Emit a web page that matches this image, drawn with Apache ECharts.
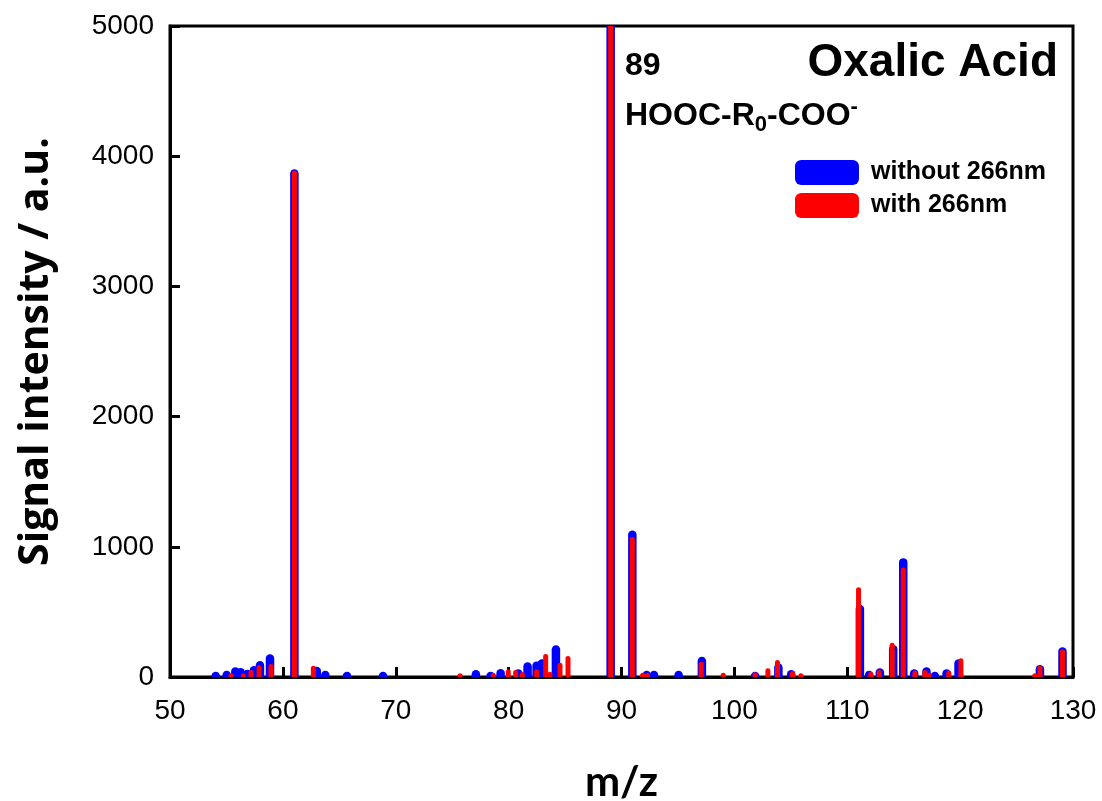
<!DOCTYPE html>
<html>
<head>
<meta charset="utf-8">
<script src="https://cdn.jsdelivr.net/npm/echarts@6/dist/echarts.min.js"></script>
<style>
    html, body { margin: 0; padding: 0; background: #fff; }
    #chart { width: 1102px; height: 801px; }
</style>
</head>
<body>
<div id="chart"></div>
<script>
// m/z positions and intensities
let blueMz = [54.05, 55.02, 55.79, 56.26, 56.85, 57.44, 57.97, 58.86, 61.02, 63.0, 63.76, 65.68, 68.87,
    77.1, 78.4, 79.29, 80.86, 81.68, 82.48, 82.95, 84.19, 89.04, 90.96, 92.23, 92.88, 95.06,
    97.12, 101.84, 103.9, 105.03, 111.12, 111.94, 112.89, 114.07, 114.96, 115.93, 117.02, 117.76,
    118.8, 119.86, 127.07, 129.07];
let blueInt = [40, 48, 74, 69, 56, 85, 123, 174, 3900, 79, 48, 41, 41,
    54, 41, 61, 59, 113, 120, 136, 244, 5200, 1125, 48, 48, 48,
    156, 41, 105, 54, 554, 48, 67, 246, 913, 59, 74, 41,
    59, 136, 92, 228];

let redMz = [55.4, 56.5, 57.18, 57.89, 58.95, 61.02, 62.7, 75.7, 78.64, 79.97, 80.62, 81.21, 82.48,
    83.28, 83.66, 84.55, 85.26, 89.04, 90.96, 91.87, 92.29, 97.06, 99.01, 101.84, 102.97, 103.82,
    105.15, 105.89, 111.0, 112.09, 112.83, 113.98, 114.96, 116.0, 116.88, 117.26, 119.0, 120.07,
    126.62, 127.07, 129.07];
let redInt = [28, 28, 54, 90, 100, 3890, 87, 28, 33, 59, 54, 38, 59,
    177, 41, 110, 161, 5200, 1075, 33, 33, 118, 33, 36, 67, 131,
    46, 28, 690, 41, 54, 264, 841, 49, 54, 33, 49, 144,
    28, 87, 213];

let seriesNames = ['without 266nm', 'with 266nm'];
let xTicks = [50, 130, 10];
let yTicks = [0, 5000, 1000];

let font = '"Liberation Sans", Arial, sans-serif';

let toData = (mz, ints) => mz.map((m, i) => [m, ints[i]]);

let stick = w => (params, api) => {
    let top = api.coord([api.value(0), api.value(1)]);
    let base = api.coord([api.value(0), 0]);
    return {
        type: 'rect',
        shape: { x: top[0] - w / 2, y: top[1], width: w, height: base[1] - top[1], r: [w / 2, w / 2, 0, 0] },
        style: { fill: api.visual('color') }
    };
};

let option = {
    animation: false,
    backgroundColor: '#fff',
    grid: {
        left: 170, right: 29, top: 26, bottom: 124,
        outerBoundsMode: 'none',
        show: true, borderColor: '#000', borderWidth: 3
    },
    legend: {
        orient: 'vertical',
        left: 790, top: 155,
        itemWidth: 64, itemHeight: 25, itemGap: 8,
        icon: 'roundRect',
        textStyle: { fontFamily: font, fontWeight: 'bold', fontSize: 25, color: '#000', padding: [0, 0, 0, 7] },
        data: seriesNames
    },
    xAxis: {
        type: 'value',
        min: xTicks[0], max: xTicks[1], interval: xTicks[2],
        name: 'm/z',
        nameLocation: 'middle',
        nameGap: 84,
        nameTextStyle: { fontFamily: 'Lato, sans-serif', fontWeight: 'bold', fontSize: 42, color: '#000' },
        axisLine: { lineStyle: { color: '#000', width: 3 } },
        axisTick: { inside: true, length: 10, lineStyle: { color: '#000', width: 3 } },
        axisLabel: { fontFamily: font, fontSize: 28, color: '#000', margin: 20 },
        splitLine: { show: false }
    },
    yAxis: {
        type: 'value',
        min: yTicks[0], max: yTicks[1], interval: yTicks[2],
        name: 'Signal intensity / a.u.',
        nameLocation: 'middle',
        nameGap: 113,
        nameRotate: 90,
        nameTextStyle: { fontFamily: '"Open Sans", sans-serif', fontWeight: 'bold', fontSize: 41, color: '#000' },
        axisLine: { lineStyle: { color: '#000', width: 3 } },
        axisTick: { inside: true, length: 10, lineStyle: { color: '#000', width: 3 } },
        axisLabel: { fontFamily: font, fontSize: 28, color: '#000', margin: 16, formatter: v => String(v) },
        splitLine: { show: false }
    },
    graphic: [
        {
            type: 'text', right: 1102 - 1058, top: 40,
            style: { text: 'Oxalic Acid', font: 'bold 46px ' + font, fill: '#000' }
        },
        {
            type: 'text', left: 625, top: 50,
            style: { text: '89', font: 'bold 32px ' + font, fill: '#000' }
        },
        {
            type: 'text', left: 625, top: 96,
            style: {
                text: '{a|HOOC-R}{b|0}{a|-COO}{c|-}',
                fill: '#000',
                rich: {
                    a: { fontFamily: font, fontWeight: 'bold', fontSize: 32, lineHeight: 40 },
                    b: { fontFamily: font, fontWeight: 'bold', fontSize: 22, lineHeight: 16, verticalAlign: 'bottom' },
                    c: { fontFamily: font, fontWeight: 'bold', fontSize: 22, lineHeight: 16, verticalAlign: 'top' }
                }
            }
        }
    ],
    series: [
        {
            name: seriesNames[0],
            type: 'custom',
            clip: true,
            itemStyle: { color: '#0000ff' },
            renderItem: stick(8.5),
            encode: { x: 0, y: 1 },
            data: toData(blueMz, blueInt)
        },
        {
            name: seriesNames[1],
            type: 'custom',
            clip: true,
            itemStyle: { color: '#ff0000' },
            renderItem: stick(5),
            encode: { x: 0, y: 1 },
            data: toData(redMz, redInt)
        }
    ]
};

let myChart = echarts.init(document.getElementById('chart'));
myChart.setOption(option);
</script>
</body>
</html>
